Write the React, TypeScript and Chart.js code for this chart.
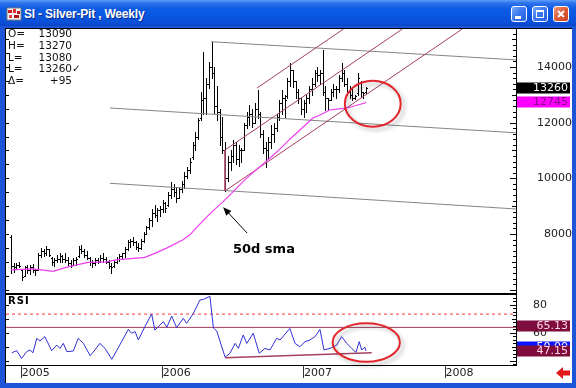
import React, { useEffect, useRef } from 'react';
import { Chart, registerables } from 'chart.js';

Chart.register(...registerables);

// ---------------- DATA ----------------
// weekly bars, index 0 = first week shown (early Dec 2004)
const highs = [7970,6950,6950,7000,6750,6850,6900,6880,6920,6750,
7330,7500,7450,7560,7450,7180,7150,7250,7300,7250,
7300,7180,7070,7130,7180,7570,7610,7450,7400,7180,
7070,7130,7130,7250,7300,7180,7070,6960,7070,7180,
7290,7330,7540,7800,7830,7900,7760,7690,7830,8080,
8300,8580,8900,9050,8950,9000,9220,9150,9500,9870,
9800,9650,9700,9900,10230,10400,10730,11300,11670,12170,
13100,14540,13600,14180,14900,14000,13300,12500,12200,11300,
10800,11000,11380,11300,11200,11100,12000,12400,12630,12500,
12700,13170,12400,11740,11300,11500,11900,12000,12300,12800,
13170,13000,13600,14140,13900,13500,13200,12900,12800,13000,
13300,13600,13900,14000,13900,14600,13300,12900,13200,13400,
13300,13700,14140,13900,13600,13300,13200,13000,13780,13500,
13100,13270];
const lows = [6600,6650,6750,6800,6350,6480,6600,6580,6650,6530,
6710,7180,7200,7260,7200,6900,6850,6980,6980,6980,
7000,6900,6820,6880,6900,7180,7320,7180,7100,6900,
6820,6880,6950,7000,7000,6950,6780,6600,6820,6950,
7030,7100,7180,7430,7540,7610,7470,7400,7470,7720,
8000,8180,8300,8600,8450,8650,8800,8800,9000,9300,
9350,9150,9300,9500,9650,10000,10200,10700,11000,11400,
12100,12300,12300,13250,13600,12350,12100,11200,10900,9550,
9900,10300,10600,10500,10450,10600,11000,11800,11900,11840,
12000,12170,11500,10900,10410,10700,11100,11300,11700,12100,
12300,12200,12900,13300,13280,12900,12700,12300,12200,12400,
12700,13000,13300,13500,13400,13000,12450,12500,12800,12950,
12900,13100,13500,13300,13000,12900,12820,12850,13000,12920,
12900,13080];
const opens = [7900,6850,6800,6900,6700,6500,6800,6700,6800,6700,
6720,7250,7400,7300,7450,7150,7000,7050,7100,7200,
7100,7050,6950,6900,7050,7200,7450,7400,7250,7150,
7000,6950,7050,7000,7150,7100,7000,6850,6850,7000,
7100,7200,7300,7450,7700,7750,7700,7550,7500,7750,
8000,8250,8500,8750,8700,8850,8900,9100,9050,9400,
9600,9500,9300,9600,9800,10100,10300,10750,11200,11500,
12150,12800,12900,13400,14000,13800,12600,12400,11500,11000,
10000,10600,10800,11200,10700,11000,11000,11900,12200,12300,
12000,12500,12300,11600,11100,11000,11300,11600,11800,12200,
12700,12900,12950,13500,13900,13500,13100,12900,12500,12700,
12900,13200,13400,13800,13700,13800,13100,12900,12800,13100,
13200,13200,13600,13800,13400,13100,13000,12900,13050,13450,
13100,13090];
const closes = [6850,6800,6900,6850,6450,6800,6700,6800,6700,6700,
7250,7400,7300,7450,7250,7000,7050,7100,7200,7100,
7050,6950,6900,7050,7100,7450,7400,7250,7150,7000,
6950,7050,7000,7150,7100,7000,6850,6800,7000,7100,
7200,7300,7450,7700,7750,7700,7550,7500,7750,8000,
8250,8500,8750,8700,8850,8900,9100,8950,9400,9600,
9500,9300,9600,9800,10100,10300,10600,11200,11500,12100,
12800,12900,13400,14000,13800,12600,12400,11500,11000,10000,
10600,10800,11200,10700,11000,11000,11900,12200,12300,12000,
12500,12300,11600,11100,11000,11300,11600,11800,12200,12700,
12900,12800,13500,13900,13500,13100,12900,12500,12700,12900,
13200,13400,13800,13700,13800,13100,12900,12800,13100,13200,
13200,13600,13800,13400,13100,13000,12900,12950,13600,13100,
13050,13260];

// 50 sma
const smaIndex = [0, 8.1, 15.5, 20.3, 28.4, 35.4, 38.7, 49.4, 53.5, 57.6, 63.5, 66, 70.8, 74.5, 78.2, 81.9, 86.3, 90, 92.6, 95.6, 99.3, 103, 106.6, 111.4, 114, 117.7, 124, 130.6, 131];
const smaValues = [6710, 6750, 6660, 6800, 6980, 7000, 7070, 7160, 7320, 7500, 7790, 7970, 8471, 8830, 9154, 9512, 9943, 10266, 10482, 10733, 11056, 11415, 11738, 12169, 12277, 12456, 12528, 12708, 12745];

// RSI
const rsiIndex = [0.3,2.1,3.9,5.8,7.0,8.1,9.5,10.7,12.5,15.0,16.9,18.1,19.3,20.6,23.0,24.8,26.7,29.2,31.0,32.8,34.7,37.2,39.0,40.8,43.3,44.5,45.8,47.0,49.4,51.9,53.1,55.0,56.2,57.5,59.3,61.1,63.6,64.8,67.3,69.7,71.0,73.4,74.7,75.9,79.0,80.8,82.7,83.9,85.7,87.0,89.4,91.6,93.7,95.6,98.0,99.3,102.9,104.8,106.6,108.5,110.3,112.2,114.0,115.5,117.7,120.2,122.0,123.9,125.7,127.3,128.5,129.4,130.6,131];
const rsiValues = [45.9,47.4,41.9,46.7,47.9,45.9,56.2,54.3,57.4,47.4,51.4,49,52.6,46.7,47.1,56.2,52.6,43.8,47.9,52.6,49,41.2,47.4,53.8,62.6,59.8,61,55,64.5,73.6,62.1,65.7,68.1,64.1,72.1,63.8,70.5,66.9,74,83.5,84,86.2,63.5,61.5,42.8,45.5,52.6,49,58.6,52.6,59.8,45.5,49,47.9,56.2,55,63.3,52.6,50.2,53.8,55,57.4,62.6,47.9,49,51.4,57.4,52.6,49,46.2,53.8,47.9,49.8,47.15];
const rsiLevelDashed = 73.5;
const rsiLevelSolid = 64;
const rsiSupportX = [79, 133.1];
const rsiSupportY = [42.4, 45.9];

// drawn channel lines (index, price)
const downChannelX = [[73.8, 186.35], [36.5, 186.35], [36.5, 186.35]];
const downChannelY = [[14909, 14255], [12527, 11636], [9821, 8898]];
const upChannelX = [[79, 166.5], [79, 144.4], [90.8, 122.7], [79, 79]];
const upChannelY = [[9548, 15365], [11020, 15365], [13246, 15365], [11020, 9548]];

// axes
const X_MIN = -1.845;
const X_MAX = 186.35;
const PRICE_MIN = 5880;
const PRICE_MAX = 15365;
const RSI_MIN = 37.14;
const RSI_MAX = 87.14;
const priceTicks = [8000, 10000, 12000, 14000];
const rsiTicks = [60, 80];
const yearLabels = ['2005', '2006', '2007', '2008'];
const yearTickIndex = [3.95, 55.98, 108.1, 160.3];

// value tags on the right axis
const priceTagValues = [13260, 12745];
const rsiTagValues = [65.13, 50.0, 47.15];

// header
const ohlcLabels = ['O=', 'H=', 'L=', 'L=', 'Δ='];
const ohlcValues = ['13090', '13270', '13080', '13260', '+95'];
const titleText = 'SI - Silver-Pit , Weekly';

// annotations (index, value)
const priceEllipse = { x: 133.5, y: 12681, rx: 10.3, ry: 826 };
const rsiEllipse = { x: 131.1, y: 53.2, rx: 12.4, ry: 13.7 };
const smaNote = { text: '50d sma', x: 81.9, y: 7425 };
const smaArrow = { fromX: 87.1, fromY: 8036, toX: 78.3, toY: 8959 };

// ---------------- helpers ----------------
const AXIS_FONT = '11px "DejaVu Sans"';

function fixScale(width?: number, height?: number) {
  return (s: any) => {
    if (width !== undefined) s.width = width;
    if (height !== undefined) s.height = height;
    s.paddingTop = 0; s.paddingBottom = 0; s.paddingLeft = 0; s.paddingRight = 0;
  };
}

function seg(xs: number[], ys: number[]) {
  return xs.map((x, k) => ({ x, y: ys[k] }));
}

function drawEllipse(ctx: CanvasRenderingContext2D, xs: any, ys: any, e: any) {
  const cx = xs.getPixelForValue(e.x);
  const cy = ys.getPixelForValue(e.y);
  const rx = Math.abs(xs.getPixelForValue(e.x + e.rx) - cx);
  const ry = Math.abs(ys.getPixelForValue(e.y + e.ry) - cy);
  ctx.save();
  ctx.shadowColor = 'rgba(0,0,0,0.28)';
  ctx.shadowBlur = 4;
  ctx.shadowOffsetX = 3;
  ctx.shadowOffsetY = 3;
  ctx.strokeStyle = '#e2252b';
  ctx.lineWidth = 2;
  ctx.beginPath();
  ctx.ellipse(cx, cy, rx, ry, 0, 0, Math.PI * 2);
  ctx.stroke();
  ctx.restore();
}

function drawTag(ctx: CanvasRenderingContext2D, chart: any, ys: any, value: number, text: string, bg: string, fg: string) {
  const a = chart.chartArea;
  const y = Math.round(ys.getPixelForValue(value));
  ctx.fillStyle = bg;
  ctx.fillRect(a.right + 1, y - 5.5, 53, 11);
  ctx.fillStyle = fg;
  ctx.font = AXIS_FONT;
  ctx.textAlign = 'right';
  ctx.textBaseline = 'middle';
  ctx.fillText(text, chart.width - 4, y + 0.5);
}

function drawAxisTicks(ctx: CanvasRenderingContext2D, chart: any, ys: any, minor: number, mid: number, major: number, leftStep: number) {
  const a = chart.chartArea;
  ctx.save();
  ctx.strokeStyle = '#000';
  ctx.lineWidth = 1;
  ctx.beginPath();
  ctx.moveTo(a.right + 0.5, a.top);
  ctx.lineTo(a.right + 0.5, a.bottom);
  const start = Math.ceil(ys.min / minor) * minor;
  for (let v = start; v <= ys.max; v += minor) {
    const y = Math.round(ys.getPixelForValue(v)) + 0.5;
    const r = Math.round(v * 100);
    const len = r % Math.round(major * 100) === 0 ? 6 : r % Math.round(mid * 100) === 0 ? 4 : 3;
    ctx.moveTo(a.right - len, y);
    ctx.lineTo(a.right, y);
  }
  const ls = Math.ceil(ys.min / leftStep) * leftStep;
  for (let v = ls; v <= ys.max; v += leftStep) {
    const y = Math.round(ys.getPixelForValue(v)) + 0.5;
    ctx.moveTo(a.left, y);
    ctx.lineTo(a.left + 3, y);
  }
  ctx.stroke();
  ctx.restore();
}

const pricePlugin = {
  id: 'pricePane',
  beforeDatasetsDraw(chart: any) {
    const { ctx, chartArea: a } = chart;
    const xs = chart.scales.x, ys = chart.scales.y;
    ctx.save();
    ctx.beginPath();
    ctx.rect(a.left, a.top, a.right - a.left, a.bottom - a.top);
    ctx.clip();
    ctx.strokeStyle = '#000';
    ctx.lineWidth = 1;
    ctx.beginPath();
    for (let i = 0; i < highs.length; i++) {
      const px = Math.round(xs.getPixelForValue(i)) + 0.5;
      const yh = Math.round(ys.getPixelForValue(highs[i]));
      const yl = Math.round(ys.getPixelForValue(lows[i]));
      ctx.moveTo(px, yh);
      ctx.lineTo(px, yl + 1);
      const yo = Math.round(ys.getPixelForValue(opens[i])) + 0.5;
      const yc = Math.round(ys.getPixelForValue(closes[i])) + 0.5;
      ctx.moveTo(px - 1.5, yo);
      ctx.lineTo(px - 0.5, yo);
      ctx.moveTo(px + 0.5, yc);
      ctx.lineTo(px + 1.5, yc);
    }
    ctx.stroke();
    ctx.restore();
  },
  afterDatasetsDraw(chart: any) {
    const { ctx } = chart;
    const xs = chart.scales.x, ys = chart.scales.y;
    drawEllipse(ctx, xs, ys, priceEllipse);
    // arrow + note
    const x1 = xs.getPixelForValue(smaArrow.fromX), y1 = ys.getPixelForValue(smaArrow.fromY);
    const x2 = xs.getPixelForValue(smaArrow.toX), y2 = ys.getPixelForValue(smaArrow.toY);
    const ang = Math.atan2(y2 - y1, x2 - x1);
    ctx.save();
    ctx.strokeStyle = '#000';
    ctx.fillStyle = '#000';
    ctx.lineWidth = 1;
    ctx.beginPath();
    ctx.moveTo(x1, y1);
    ctx.lineTo(x2 - Math.cos(ang) * 5, y2 - Math.sin(ang) * 5);
    ctx.stroke();
    ctx.beginPath();
    ctx.moveTo(x2, y2);
    ctx.lineTo(x2 - Math.cos(ang - 0.4) * 9, y2 - Math.sin(ang - 0.4) * 9);
    ctx.lineTo(x2 - Math.cos(ang + 0.4) * 9, y2 - Math.sin(ang + 0.4) * 9);
    ctx.closePath();
    ctx.fill();
    ctx.font = 'bold 13px "DejaVu Sans"';
    ctx.textAlign = 'left';
    ctx.textBaseline = 'middle';
    ctx.fillText(smaNote.text, xs.getPixelForValue(smaNote.x), ys.getPixelForValue(smaNote.y));
    ctx.restore();
  },
  afterDraw(chart: any) {
    const { ctx } = chart;
    const ys = chart.scales.y;
    drawAxisTicks(ctx, chart, ys, 200, 1000, 2000, 500);
    ctx.save();
    drawTag(ctx, chart, ys, priceTagValues[0], String(priceTagValues[0]), '#000000', '#ffffff');
    drawTag(ctx, chart, ys, priceTagValues[1], String(priceTagValues[1]), '#ff00ff', '#8a0a8a');
    ctx.restore();
  },
};

const rsiPlugin = {
  id: 'rsiPane',
  afterDatasetsDraw(chart: any) {
    drawEllipse(chart.ctx, chart.scales.x, chart.scales.y, rsiEllipse);
  },
  afterDraw(chart: any) {
    const { ctx } = chart;
    const ys = chart.scales.y;
    drawAxisTicks(ctx, chart, ys, 2.5, 10, 20, 10);
    ctx.save();
    drawTag(ctx, chart, ys, rsiTagValues[0], rsiTagValues[0].toFixed(2), '#7e0d3e', '#ffd6e4');
    drawTag(ctx, chart, ys, rsiTagValues[1], rsiTagValues[1].toFixed(2), '#0a14ff', '#ffffff');
    drawTag(ctx, chart, ys, rsiTagValues[2], rsiTagValues[2].toFixed(2), '#7e0d3e', '#ffd6e4');
    ctx.restore();
  },
};

function lineDs(data: any[], color: string, width = 1, dash: number[] = []) {
  return {
    type: 'line' as const,
    data,
    borderColor: color,
    borderWidth: width,
    borderDash: dash,
    pointRadius: 0,
    tension: 0,
    fill: false,
  };
}

export default function App() {
  const priceRef = useRef<HTMLCanvasElement>(null);
  const rsiRef = useRef<HTMLCanvasElement>(null);

  useEffect(() => {
    const priceDatasets: any[] = [
      lineDs(seg(smaIndex, smaValues), '#f03cf0', 1.2),
      ...upChannelX.map((xs, k) => lineDs(seg(xs, upChannelY[k]), '#a3405f', 1)),
      ...downChannelX.map((xs, k) => lineDs(seg(xs, downChannelY[k]), '#858585', 1)),
    ];
    const pc = new Chart(priceRef.current!, {
      type: 'line',
      data: { datasets: priceDatasets },
      options: {
        animation: false,
        responsive: false,
        maintainAspectRatio: false,
        events: [],
        layout: { padding: 0, autoPadding: false },
        plugins: { legend: { display: false }, tooltip: { enabled: false } },
        scales: {
          x: { type: 'linear', min: X_MIN, max: X_MAX, display: false },
          y: {
            type: 'linear',
            position: 'right',
            min: PRICE_MIN,
            max: PRICE_MAX,
            afterFit: fixScale(56),
            afterBuildTicks: (s: any) => { s.ticks = priceTicks.map((v) => ({ value: v })); },
            ticks: {
              autoSkip: false,
              crossAlign: 'far',
              padding: 17,
              color: '#222',
              font: { family: 'DejaVu Sans', size: 11 },
              callback: (v: any) => String(v),
            },
            grid: { display: false, drawTicks: false },
            border: { display: false },
          },
        },
      } as any,
      plugins: [pricePlugin],
    });

    const rsiDatasets: any[] = [
      lineDs(seg(rsiIndex, rsiValues), '#2f2fd8', 1),
      lineDs(seg(rsiSupportX, rsiSupportY), '#a3405f', 1.5),
      lineDs(seg([X_MIN, X_MAX], [rsiLevelSolid, rsiLevelSolid]), '#a3405f', 1),
      lineDs(seg([X_MIN, X_MAX], [rsiLevelDashed, rsiLevelDashed]), '#ff3333', 1, [3, 3]),
    ];
    const rc = new Chart(rsiRef.current!, {
      type: 'line',
      data: { datasets: rsiDatasets },
      options: {
        animation: false,
        responsive: false,
        maintainAspectRatio: false,
        events: [],
        layout: { padding: 0, autoPadding: false },
        plugins: { legend: { display: false }, tooltip: { enabled: false } },
        scales: {
          x: {
            type: 'linear',
            position: 'bottom',
            min: X_MIN,
            max: X_MAX,
            afterFit: fixScale(undefined, 18),
            afterBuildTicks: (s: any) => { s.ticks = yearTickIndex.map((v) => ({ value: v })); },
            ticks: {
              autoSkip: false,
              maxRotation: 0,
              align: 'start',
              padding: -11,
              color: '#222',
              font: { family: 'DejaVu Sans', size: 11 },
              callback: (_v: any, idx: number) => yearLabels[idx],
            },
            grid: { drawOnChartArea: false, drawTicks: true, tickLength: 13, color: '#333', lineWidth: 1 },
            border: { display: true, color: '#000', width: 1 },
          },
          y: {
            type: 'linear',
            position: 'right',
            min: RSI_MIN,
            max: RSI_MAX,
            afterFit: fixScale(56),
            afterBuildTicks: (s: any) => { s.ticks = rsiTicks.map((v) => ({ value: v })); },
            ticks: {
              autoSkip: false,
              crossAlign: 'near',
              padding: 17,
              color: '#222',
              font: { family: 'DejaVu Sans', size: 11 },
              callback: (v: any) => String(v),
            },
            grid: { display: false, drawTicks: false },
            border: { display: false },
          },
        },
      } as any,
      plugins: [rsiPlugin],
    });

    return () => {
      pc.destroy();
      rc.destroy();
    };
  }, []);

  const btn = (left: number, bg: string, child: React.ReactNode) => (
    <div
      style={{
        position: 'absolute', left, top: 6, width: 16, height: 16, boxSizing: 'border-box',
        border: '1px solid #ffffff', borderRadius: 3, background: bg,
      }}
    >
      {child}
    </div>
  );

  return (
    <div style={{ position: 'fixed', left: 0, top: 0, width: 576, height: 388, overflow: 'hidden', background: '#1d55d8' }}>
      {/* title bar */}
      <div
        style={{
          position: 'absolute', left: 0, top: 0, width: 576, height: 26,
          background: 'linear-gradient(180deg, #5d9df7 0%, #2d73ec 12%, #0e5ce5 32%, #0a56e0 62%, #0b4fd8 86%, #0846c9 100%)',
        }}
      />
      {/* icon */}
      <svg style={{ position: 'absolute', left: 6, top: 6 }} width={16} height={15}>
        <rect x={1} y={2} width={14} height={12} fill="#f4f4f4" stroke="#7a7a7a" strokeWidth={1} />
        <rect x={2} y={4} width={4} height={3} fill="#d02020" />
        <rect x={7} y={3} width={3} height={4} fill="#e03030" />
        <rect x={11} y={5} width={3} height={3} fill="#c01818" />
        <rect x={3} y={9} width={3} height={3} fill="#e04040" />
        <rect x={8} y={9} width={5} height={3} fill="#b01010" />
      </svg>
      <div
        style={{
          position: 'absolute', left: 24, top: 1, height: 26, lineHeight: '26px',
          color: '#ffffff', fontFamily: '"Liberation Sans", Arial, sans-serif', fontWeight: 'bold', fontSize: 12,
          letterSpacing: -0.2, textShadow: '1px 1px 0 #0a2a8a', whiteSpace: 'nowrap',
        }}
      >
        {titleText}
      </div>
      {btn(511, 'linear-gradient(135deg, #77a9fa 0%, #3a76ee 50%, #2461e2 100%)',
        <div style={{ position: 'absolute', left: 3, top: 9, width: 6, height: 3, background: '#fff' }} />)}
      {btn(532, 'linear-gradient(135deg, #77a9fa 0%, #3a76ee 50%, #2461e2 100%)',
        <div style={{ position: 'absolute', left: 3, top: 3, width: 8, height: 8, boxSizing: 'border-box', border: '1px solid #fff', borderTop: '2px solid #fff' }} />)}
      {btn(553, 'linear-gradient(135deg, #f09a7c 0%, #df5b38 50%, #c9421f 100%)',
        <svg width={14} height={14} style={{ position: 'absolute', left: 0, top: 0 }}>
          <path d="M4 4 L10 10 M10 4 L4 10" stroke="#fff" strokeWidth={2} />
        </svg>)}

      {/* client area */}
      <div
        style={{
          position: 'absolute', left: 5, top: 28, width: 567, height: 355, boxSizing: 'border-box',
          background: '#ffffff', borderTop: '1px solid #000', borderLeft: '1px solid #000',
        }}
      />
      <canvas ref={priceRef} width={566} height={264} style={{ position: 'absolute', left: 6, top: 29, width: 566, height: 264 }} />
      <div style={{ position: 'absolute', left: 6, top: 293, width: 511, height: 2, background: '#000' }} />
      <canvas ref={rsiRef} width={566} height={88} style={{ position: 'absolute', left: 6, top: 295, width: 566, height: 88 }} />

      {/* OHLC header */}
      <div style={{ position: 'absolute', left: 8, top: 28, width: 64, fontFamily: '"DejaVu Sans", sans-serif', fontSize: 10.5, lineHeight: '11.8px', color: '#111' }}>
        {ohlcLabels.map((l, k) => (
          <div key={k} style={{ position: 'relative', width: 64, height: 11.8 }}>
            <span>{l}</span>
            <span style={{ position: 'absolute', right: 0, top: 0, textAlign: 'right' }}>{ohlcValues[k]}</span>
            {k === 3 ? <span style={{ position: 'absolute', left: 64, top: 0 }}>✓</span> : null}
          </div>
        ))}
      </div>
      <div style={{ position: 'absolute', left: 8, top: 295, fontFamily: '"DejaVu Sans", sans-serif', fontWeight: 'bold', fontSize: 10, letterSpacing: 1, color: '#000' }}>
        RSI
      </div>

      {/* red arrow bottom-right */}
      <svg style={{ position: 'absolute', left: 555, top: 366 }} width={16} height={14}>
        <path d="M1 7 L8 1 L8 4.5 L15 4.5 L15 9.5 L8 9.5 L8 13 Z" fill="#e01818" />
      </svg>
    </div>
  );
}
